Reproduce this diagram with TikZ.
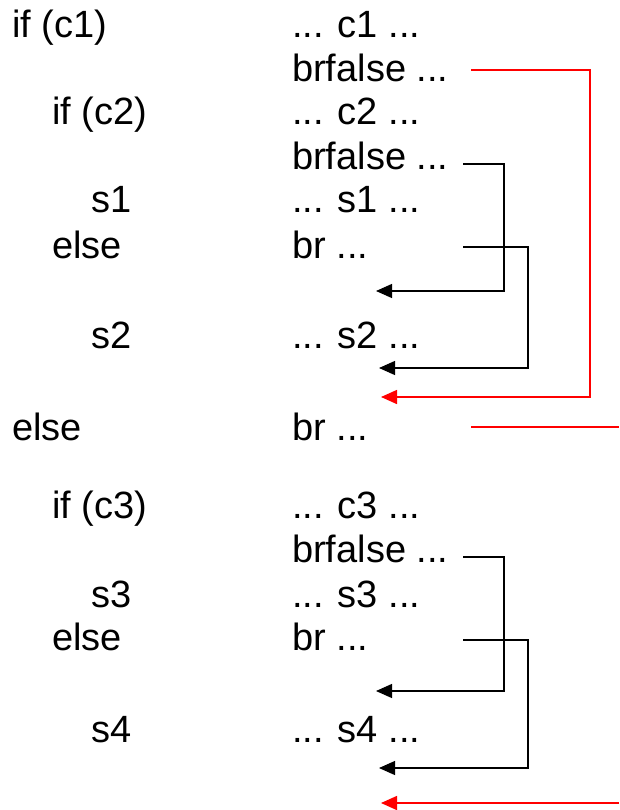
\documentclass[tikz,border=0pt]{standalone}
\usepackage{fontspec}
\setmainfont{Liberation Sans}
\usetikzlibrary{arrows.meta}

\begin{document}
\begin{tikzpicture}[x=1pt,y=-1pt]

\tikzset{Code/.style = {anchor=base west, inner sep=0pt, font=\fontsize{38}{44}\selectfont},
         Jump/.style = {line width=1.2pt, black, -{Triangle[length=16pt,width=14pt]}},
         FarJump/.style = {Jump, red, line width=1.5pt}}

\useasboundingbox (0,0) rectangle (619,810);

\node[Code] (src1) at (12,38) {if (c1)};
\node[Code] (src2) at (52,125) {if (c2)};
\node[Code] (src3) at (91,213) {s1};
\node[Code] (src4) at (52,258) {else};
\node[Code] (src5) at (91,348) {s2};
\node[Code] (src6) at (12,440) {else};
\node[Code] (src7) at (52,518) {if (c3)};
\node[Code] (src8) at (91,607) {s3};
\node[Code] (src9) at (52,650) {else};
\node[Code] (src10) at (91,742) {s4};

\node[Code] (il1) at (292,38) {... c1 ...};
\node[Code] (il2) at (292,82) {brfalse ...};
\node[Code] (il3) at (292,125) {... c2 ...};
\node[Code] (il4) at (292,170) {brfalse ...};
\node[Code] (il5) at (292,213) {... s1 ...};
\node[Code] (il6) at (292,258) {br ...};
\node[Code] (il7) at (292,348) {... s2 ...};
\node[Code] (il8) at (292,440) {br ...};
\node[Code] (il9) at (292,518) {... c3 ...};
\node[Code] (il10) at (292,562) {brfalse ...};
\node[Code] (il11) at (292,607) {... s3 ...};
\node[Code] (il12) at (292,650) {br ...};
\node[Code] (il13) at (292,742) {... s4 ...};

\coordinate (j1) at (471,70);
\coordinate (j2) at (463,164);
\coordinate (j3) at (463,247);
\coordinate (j4) at (471,427);
\coordinate (j5) at (463,557);
\coordinate (j6) at (463,640);
\coordinate (j7) at (619,803);

\coordinate (t1) at (381,397);
\coordinate (t2) at (376,291);
\coordinate (t3) at (379,368);
\coordinate (t4) at (619,427);
\coordinate (t5) at (376,691);
\coordinate (t6) at (379,768);
\coordinate (t7) at (381,803);

\draw[FarJump] (j1) -- (590,70) |- (t1);
\draw[Jump] (j2) -- (504,164) |- (t2);
\draw[Jump] (j3) -- (528,247) |- (t3);
\draw[FarJump,-] (j4) -- (t4);
\draw[Jump] (j5) -- (504,557) |- (t5);
\draw[Jump] (j6) -- (528,640) |- (t6);
\draw[FarJump] (j7) -- (t7);

\end{tikzpicture}
\end{document}
